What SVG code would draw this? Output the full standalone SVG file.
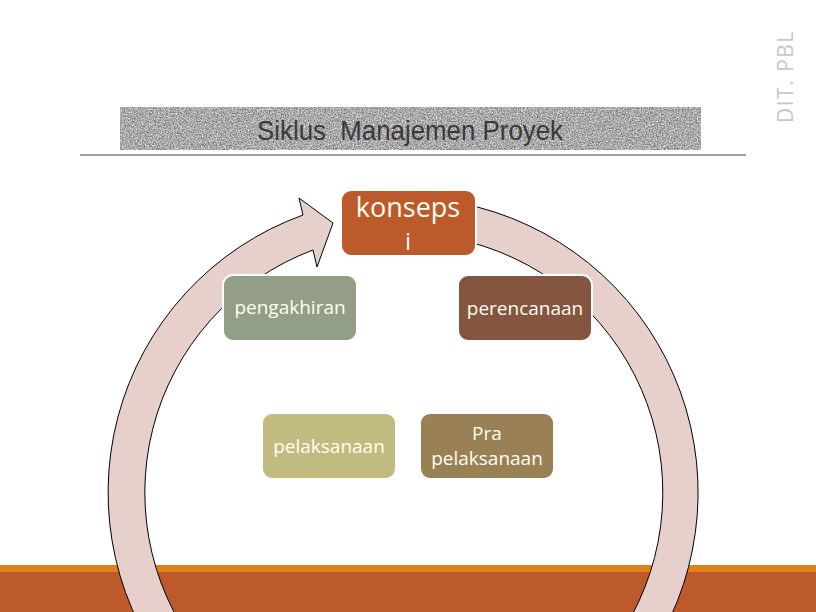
<svg xmlns="http://www.w3.org/2000/svg" width="816" height="612" viewBox="0 0 816 612">
<defs>
<filter id="noise" x="0" y="0" width="100%" height="100%" color-interpolation-filters="sRGB">
<feTurbulence type="fractalNoise" baseFrequency="0.75" numOctaves="3" seed="5" result="t"/>
<feColorMatrix in="t" type="matrix" values="0.85 0 0 0 0.24 0.85 0 0 0 0.24 0.85 0 0 0 0.24 0 0 0 0 1" result="g"/>
<feComposite in="g" in2="SourceGraphic" operator="in"/>
</filter>
<style>
.box{stroke:#ffffff;stroke-width:2}
.lbl{font-family:"Open Sans","Noto Sans",sans-serif;fill:#fffff2;text-anchor:middle}
.s19{font-size:19px}
</style>
</defs>
<rect width="816" height="612" fill="#ffffff"/>
<!-- footer -->
<rect x="0" y="565" width="816" height="8" fill="#e0821a"/>
<rect x="0" y="572" width="816" height="40" fill="#bd5a2b"/>
<!-- title -->
<rect x="120" y="107" width="581" height="43" fill="#a8a8a8" filter="url(#noise)"/>
<text x="257" y="140" xml:space="preserve" font-family="'Liberation Sans',Arial,sans-serif" font-size="27" fill="#3a3a3a" textLength="306" lengthAdjust="spacingAndGlyphs">Siklus  Manajemen Proyek</text>
<line x1="80" y1="155" x2="746" y2="155" stroke="#808080" stroke-width="1.5"/>
<text transform="translate(793,123) rotate(-90)" font-family="'Open Sans','Noto Sans',sans-serif" font-size="21" fill="#c8c8c8" letter-spacing="1.5">DIT. PBL</text>
<!-- connectors -->
<g id="connectors">
<path d="M 442.9,200.2 A 295 295 0 1 1 303,215 L 299,198 L 333,223 L 317,267 L 313,250 A 259 259 0 1 0 438.6,235.9 Z" fill="#e7d0cc" stroke="#000000" stroke-width="1"/>
</g>
<g id="konsepsi">
<rect class="box" x="341" y="190" width="135" height="66" rx="10" fill="#bd5a2b"/>
<text class="lbl" x="408" y="217" font-size="27">konseps</text>
<text class="lbl" x="408" y="250" font-size="24">i</text>
</g>
<g id="pengakhiran">
<rect class="box" x="223" y="275" width="134" height="66" rx="10" fill="#929e85"/>
<text class="lbl s19" x="290" y="314">pengakhiran</text>
</g>
<g id="perencanaan">
<rect class="box" x="458" y="275" width="134" height="66" rx="10" fill="#84553f"/>
<text class="lbl s19" x="525" y="315">perencanaan</text>
</g>
<g id="pelaksanaan">
<rect class="box" x="262" y="413" width="134" height="66" rx="10" fill="#c1bb80"/>
<text class="lbl s19" x="329" y="453">pelaksanaan</text>
</g>
<g id="pra-pelaksanaan">
<rect class="box" x="420" y="413" width="134" height="66" rx="10" fill="#9a8055"/>
<text class="lbl s19" x="487" y="440">Pra</text>
<text class="lbl s19" x="487" y="465">pelaksanaan</text>
</g>
</svg>
